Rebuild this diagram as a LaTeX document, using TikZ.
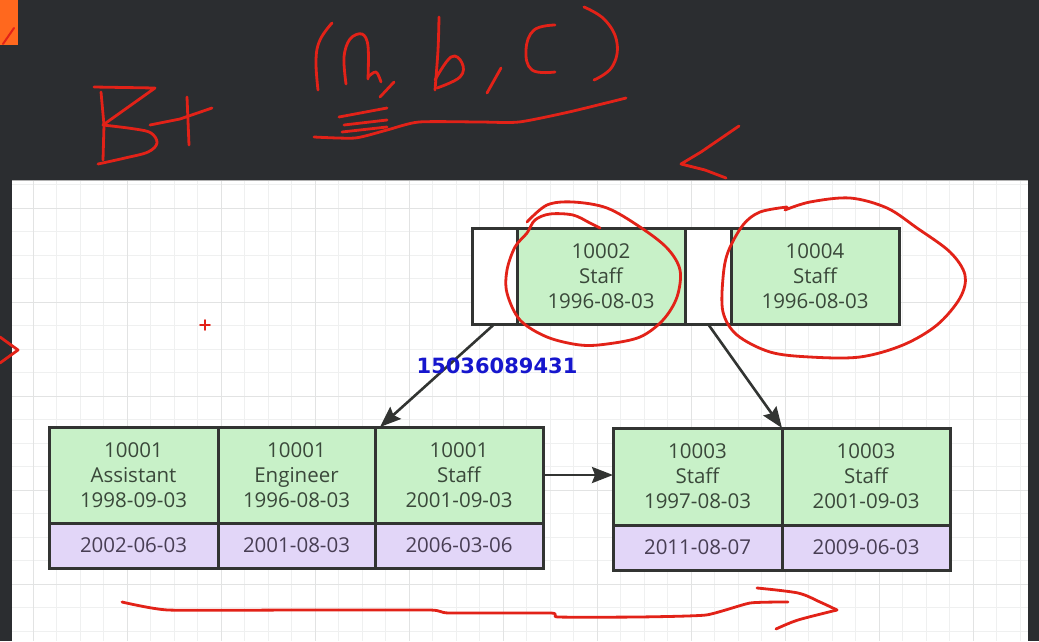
\documentclass[tikz,border=0pt]{standalone}
\usepackage{fontspec}
\setmainfont{Open Sans}
\newfontfamily\wmfont{DejaVu Sans}
\usetikzlibrary{arrows.meta,calc}
\definecolor{bg}{RGB}{43,45,48}
\definecolor{gridmin}{RGB}{239,240,240}
\definecolor{gridmaj}{RGB}{226,227,227}
\definecolor{keyfill}{RGB}{200,241,200}
\definecolor{valfill}{RGB}{226,214,248}
\definecolor{edge}{RGB}{50,52,50}
\definecolor{keytxt}{RGB}{58,72,58}
\definecolor{valtxt}{RGB}{72,62,84}
\definecolor{ink}{RGB}{226,34,24}
\definecolor{wm}{RGB}{22,22,205}
\definecolor{orangeblk}{RGB}{255,104,30}
\begin{document}
\begin{tikzpicture}[x=1pt,y=-1pt,
  cell/.style={draw=edge,line width=3pt,inner sep=0pt,outer sep=0pt,align=center,
    font=\fontsize{20.5}{25}\selectfont},
  keycell/.style={cell,fill=keyfill,text=keytxt},
  valcell/.style={cell,fill=valfill,text=valtxt},
  ptrcell/.style={cell,fill=white},
  link/.style={draw=edge,line width=2.6pt,-{Stealth[length=21pt,width=16pt,inset=3pt]}},
  hand/.style={draw=ink,line width=2.8pt,line cap=round,line join=round}
]
\useasboundingbox (0,0) rectangle (1039,641);
\fill[bg] (0,0) rectangle (1039,641);
% white panel with grid
\fill[white] (12,180) rectangle (1028,641);
\begin{scope}
\clip (12,180) rectangle (1028,641);
\foreach \i in {0,...,42} \draw[gridmin,line width=1pt] ({33+23.5*\i},180) -- ({33+23.5*\i},641);
\foreach \j in {0,...,19} \draw[gridmin,line width=1pt] (12,{184.5+23.5*\j}) -- (1028,{184.5+23.5*\j});
\foreach \i in {0,...,10} \draw[gridmaj,line width=1pt] ({33+94*\i},180) -- ({33+94*\i},641);
\foreach \j in {0,...,4} \draw[gridmaj,line width=1pt] (12,{208+94*\j}) -- (1028,{208+94*\j});
\end{scope}
\draw[gray!60,line width=1pt] (12,180.5) -- (1028,180.5);

% top (internal) node
\node[ptrcell,minimum width=45,minimum height=96] (p1) at (494.5,276) {};
\node[keycell,minimum width=168,minimum height=96] (k1) at (601,276) {10002\\Staff\\1996-08-03};
\node[ptrcell,minimum width=46,minimum height=96] (p2) at (708,276) {};
\node[keycell,minimum width=168,minimum height=96] (k2) at (815,276) {10004\\Staff\\1996-08-03};

% left leaf
\node[keycell,minimum width=169,minimum height=96] (l1) at (133.5,475) {10001\\Assistant\\1998-09-03};
\node[keycell,minimum width=157,minimum height=96] (l2) at (296.5,475) {10001\\Engineer\\1996-08-03};
\node[keycell,minimum width=168,minimum height=96] (l3) at (459,475) {10001\\Staff\\2001-09-03};
\node[valcell,minimum width=169,minimum height=45] (v1) at (133.5,545.5) {2002-06-03};
\node[valcell,minimum width=157,minimum height=45] (v2) at (296.5,545.5) {2001-08-03};
\node[valcell,minimum width=168,minimum height=45] (v3) at (459,545.5) {2006-03-06};

% right leaf
\node[keycell,minimum width=169,minimum height=97] (r1) at (697.5,476.5) {10003\\Staff\\1997-08-03};
\node[keycell,minimum width=168,minimum height=97] (r2) at (866,476.5) {10003\\Staff\\2001-09-03};
\node[valcell,minimum width=169,minimum height=45] (w1) at (697.5,547.5) {2011-08-07};
\node[valcell,minimum width=168,minimum height=45] (w2) at (866,547.5) {2009-06-03};

% connectors
\draw[link] (p1.south) -- ($(l3.north west)+(5,0)$);
\draw[link] (p2.south) -- (r2.north west);
\draw[link] (l3.east) -- (l3.east -| r1.west);

% watermark number
\node[text=wm,font=\wmfont\bfseries\fontsize{21}{24}\selectfont] (wmark) at (497,366) {15036089431};

% ---- red handwriting ----
\fill[orangeblk] (0,0) rectangle (18,45);
\draw[hand,line width=2pt] (3,44) -- (14,28);
% B+
\draw[hand] (101,92) -- (104,125) -- (103,160);
\draw[hand] (94,87) -- (155,88) -- (103,125);
\draw[hand] plot[smooth,tension=0.6] coordinates {(103,125) (135,129) (151,133) (157,143) (148,152) (125,158) (98,164)};
\draw[hand] (187,97) -- (189,145);
\draw[hand] (150,125) -- (180,119) -- (212,108);
% (a, b, c)
\draw[hand] plot[smooth,tension=0.7] coordinates {(332,23) (320,40) (316,60) (318,90)};
\draw[hand] plot[smooth,tension=0.6] coordinates {(346,84) (344,57) (350,39) (362,34) (368,46) (368,79)};
\draw[hand] plot[smooth,tension=0.6] coordinates {(368,77) (376,72) (381,82)};
\draw[hand] (394,82) -- (380,97);
\draw[hand] plot[smooth,tension=0.6] coordinates {(439,17) (438,50) (435,90)};
\draw[hand] plot[smooth,tension=0.7] coordinates {(435,80) (451,57) (462,63) (460,77) (437,88)};
\draw[hand] (501,68) -- (487,93);
\draw[hand] plot[smooth,tension=0.7] coordinates {(555,25) (534,30) (526,50) (532,70) (555,72)};
\draw[hand] plot[smooth,tension=0.7] coordinates {(584,7) (605,20) (617,43) (612,67) (594,80)};
% underline with marks
\draw[hand] plot[smooth,tension=0.4] coordinates {(314,137) (355,138) (387,130) (419,122) (480,122) (519,122) (569,112) (626,98)};
\draw[hand] (339,117) -- (387,108);
\draw[hand] (344,125) -- (387,120);
\draw[hand] (342,132) -- (387,127);
% <
\draw[hand] (739,126) -- (701,152) -- (681,164) -- (705,170) -- (726,178);
% left edge >
\draw[hand] (0,337) -- (18,350) -- (0,363);
% small cross
\draw[hand,line width=1.8pt] (200,325) -- (210,325);
\draw[hand,line width=1.8pt] (205,320) -- (205,330);
% circles round the top keys
\draw[hand] plot[smooth,tension=0.55] coordinates {(527,222) (547,205) (573,202) (607,208) (640,227) (667,248) (680,270) (677,297) (663,320) (640,337) (607,344) (580,345) (547,337) (520,320) (507,293) (507,270) (515,247) (527,233) (535,220) (550,214) (573,215) (590,223) (600,228)};
\draw[hand] plot[smooth,tension=0.55] coordinates {(785,210) (810,202) (850,198) (887,208) (917,228) (950,252) (965,275) (960,298) (937,325) (903,345) (860,357) (810,357) (770,352) (737,335) (723,312) (723,278) (728,252) (743,225) (760,212) (787,207)};
% long bottom arrow
\draw[hand] plot[smooth,tension=0.3] coordinates {(122,602) (168,610) (300,610) (430,610) (449,613) (551,613) (558,617) (638,617) (706,615) (750,603) (788,602)};
\draw[hand] plot[smooth,tension=0.5] coordinates {(757,588) (798,593) (820,602) (837,610)};
\draw[hand] plot[smooth,tension=0.5] coordinates {(837,610) (798,620) (776,629)};
\end{tikzpicture}
\end{document}
